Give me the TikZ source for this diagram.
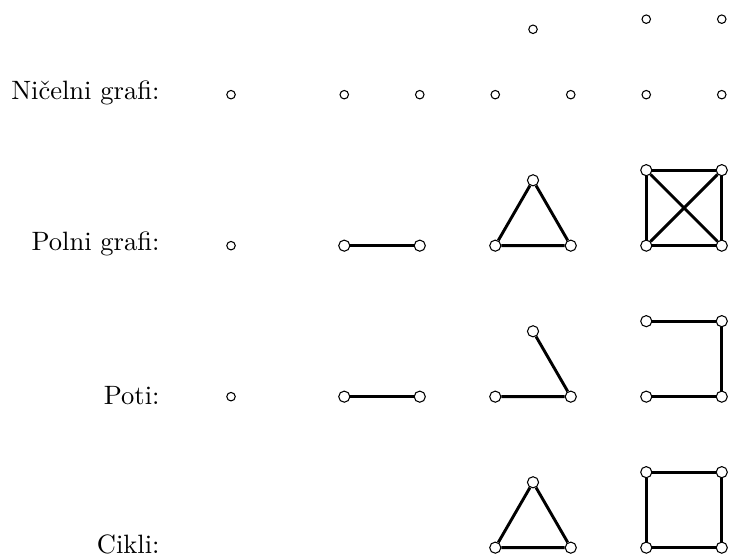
\documentclass[tikz,border=0pt]{standalone}
\begin{document}
\begin{tikzpicture}[
  v/.style={circle, draw, fill=white, inner sep=0pt, minimum size=4.2pt, line width=0.4pt},
  vs/.style={circle, draw, fill=white, inner sep=0pt, minimum size=3.2pt, line width=0.4pt},
  edge/.style={line width=1.1pt},
  lab/.style={anchor=east, inner sep=0pt}
]
\useasboundingbox (-3.06,-6.136) rectangle (6.596,1.254);

% labels
\node[lab] (l1) at (-0.94,0.02) {Ničelni grafi:};
\node[lab] (l2) at (-0.94,-1.98) {Polni grafi:};
\node[lab] (l3) at (-0.94,-3.98) {Poti:};
\node[lab] (l4) at (-0.94,-5.96) {Cikli:};

% Row 1: empty graphs
\node[vs] (a1) at (0,0) {};
\node[vs] (a2) at (1.5,0) {};
\node[vs] (a3) at (2.5,0) {};
\node[vs] (a4) at (3.5,0) {};
\node[vs] (a5) at (4.5,0) {};
\node[vs] (a6) at (4,0.866) {};
\node[vs] (a7) at (5.5,0) {};
\node[vs] (a8) at (6.5,0) {};
\node[vs] (a9) at (5.5,1) {};
\node[vs] (a10) at (6.5,1) {};

% Row 2: complete graphs
\node[vs] (b1) at (0,-2) {};
\node[v] (b2) at (1.5,-2) {};
\node[v] (b3) at (2.5,-2) {};
\node[v] (b4) at (3.5,-2) {};
\node[v] (b5) at (4.5,-2) {};
\node[v] (b6) at (4,-1.134) {};
\node[v] (b7) at (5.5,-2) {};
\node[v] (b8) at (6.5,-2) {};
\node[v] (b9) at (5.5,-1) {};
\node[v] (b10) at (6.5,-1) {};
\draw[edge] (b2) -- (b3);
\draw[edge] (b4) -- (b5) -- (b6) -- (b4);
\draw[edge] (b7) -- (b8) -- (b10) -- (b9) -- (b7);
\draw[edge] (b7) -- (b10);
\draw[edge] (b8) -- (b9);

% Row 3: paths
\node[vs] (c1) at (0,-4) {};
\node[v] (c2) at (1.5,-4) {};
\node[v] (c3) at (2.5,-4) {};
\node[v] (c4) at (3.5,-4) {};
\node[v] (c5) at (4.5,-4) {};
\node[v] (c6) at (4,-3.134) {};
\node[v] (c7) at (5.5,-4) {};
\node[v] (c8) at (6.5,-4) {};
\node[v] (c9) at (5.5,-3) {};
\node[v] (c10) at (6.5,-3) {};
\draw[edge] (c2) -- (c3);
\draw[edge] (c4) -- (c5) -- (c6);
\draw[edge] (c7) -- (c8) -- (c10) -- (c9);

% Row 4: cycles
\node[v] (d4) at (3.5,-6) {};
\node[v] (d5) at (4.5,-6) {};
\node[v] (d6) at (4,-5.134) {};
\node[v] (d7) at (5.5,-6) {};
\node[v] (d8) at (6.5,-6) {};
\node[v] (d9) at (5.5,-5) {};
\node[v] (d10) at (6.5,-5) {};
\draw[edge] (d4) -- (d5) -- (d6) -- (d4);
\draw[edge] (d7) -- (d8) -- (d10) -- (d9) -- (d7);
\end{tikzpicture}
\end{document}
